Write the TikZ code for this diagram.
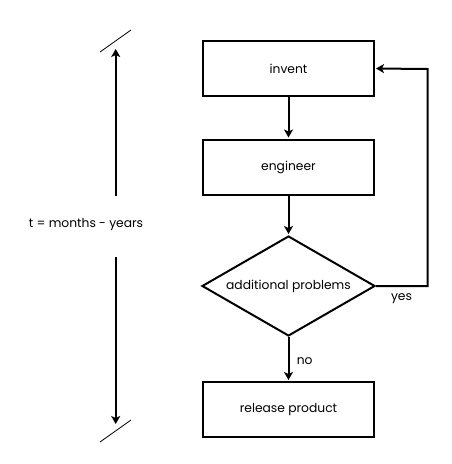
\documentclass[tikz,border=0pt]{standalone}
\usepackage{fontspec}
\setmainfont{Poppins}
\usetikzlibrary{arrows.meta,shapes.geometric}
\begin{document}
\begin{tikzpicture}[x=1pt,y=-1pt,
  every node/.style={font=\fontsize{12.3}{14}\selectfont},
  box/.style={draw,line width=2pt,minimum width=171pt,minimum height=55pt,inner sep=0pt},
  dec/.style={draw,line width=2pt,diamond,shape aspect=1.73,minimum width=173pt,minimum height=100pt,inner sep=0pt},
  conn/.style={line width=2pt,-{Stealth[length=8pt,width=9pt,inset=2pt]},shorten >=1pt},
  slash/.style={line width=0.8pt}]
\useasboundingbox (0,0) rectangle (451,464);
\node[box] (inv) at (288.5,68.5) {invent};
\node[box] (eng) at (288.5,167) {engineer};
\node[dec] (add) at (288.5,286) {additional problems};
\node[box] (rel) at (288.5,409.5) {release product};
\coordinate (c1) at (427.5,286);
\coordinate (c2) at (427.5,69);
\draw[conn] (inv) -- (eng);
\draw[conn] (eng) -- (add);
\draw[conn] (add) -- node[right,xshift=4pt,yshift=-2pt] {no} (rel);
\draw[conn] (add.east) -- (c1) -- (c2) -- (inv.east);
\node (yes) at (401.5,299) {yes};
\node (t) at (86,225) {t = months - years};
\coordinate (ut) at (115.7,196);
\coordinate (uh) at (115.7,48);
\coordinate (dt) at (115.7,257);
\coordinate (dh) at (115.7,425);
\draw[conn] (ut) -- (uh);
\draw[conn] (dt) -- (dh);
\coordinate (s1a) at (100,52);
\coordinate (s1b) at (131,30);
\coordinate (s2a) at (100,442);
\coordinate (s2b) at (131,420);
\draw[slash] (s1a) -- (s1b);
\draw[slash] (s2a) -- (s2b);
\end{tikzpicture}
\end{document}
